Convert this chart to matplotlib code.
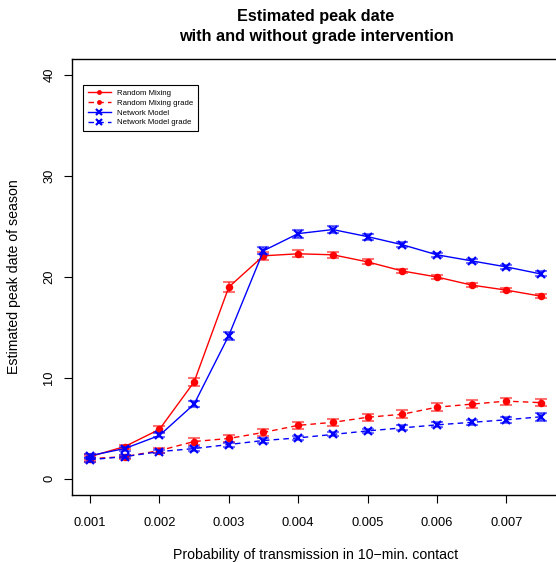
import numpy as np
import matplotlib
matplotlib.use("Agg")
import matplotlib.pyplot as plt

plt.rcParams['font.family'] = ['Liberation Sans', 'DejaVu Sans']

# transmission probabilities
prob = [0.001, 0.0015, 0.002, 0.0025, 0.003, 0.0035, 0.004,
        0.0045, 0.005, 0.0055, 0.006, 0.0065, 0.007, 0.0075]

rm = [2.2, 3.2, 4.9, 9.6, 19.0, 22.1, 22.3, 22.2, 21.5, 20.6, 20.0, 19.2, 18.7, 18.1]
rm_err = [0.3, 0.2, 0.3, 0.4, 0.5, 0.4, 0.35, 0.3, 0.25, 0.2, 0.2, 0.2, 0.2, 0.2]

nm = [2.3, 3.0, 4.3, 7.4, 14.2, 22.6, 24.3, 24.7, 24.0, 23.2, 22.2, 21.6, 21.0, 20.3]
nm_err = [0.2, 0.2, 0.2, 0.3, 0.4, 0.35, 0.4, 0.35, 0.3, 0.25, 0.2, 0.2, 0.2, 0.25]

rm_grade = [2.0, 2.2, 2.8, 3.7, 4.0, 4.6, 5.3, 5.6, 6.1, 6.4, 7.1, 7.4, 7.7, 7.55]
rm_grade_err = [0.3, 0.2, 0.25, 0.3, 0.3, 0.35, 0.35, 0.35, 0.35, 0.4, 0.4, 0.4, 0.35, 0.35]

nm_grade = [1.9, 2.2, 2.7, 3.0, 3.4, 3.8, 4.06, 4.4, 4.75, 5.05, 5.35, 5.6, 5.85, 6.15]
nm_grade_err = [0.2, 0.15, 0.15, 0.2, 0.2, 0.2, 0.2, 0.2, 0.2, 0.25, 0.25, 0.25, 0.3, 0.4]

xticks = [0.001, 0.002, 0.003, 0.004, 0.005, 0.006, 0.007]
xticklabels = ['0.001', '0.002', '0.003', '0.004', '0.005', '0.006', '0.007']
yticks = [0, 10, 20, 30, 40]

W, H = 556, 562
fig = plt.figure(figsize=(W / 100, H / 100), dpi=100)
# plot box runs past the right edge of the picture, like the cropped original
ax = fig.add_axes([72 / W, 1 - 495 / H, (559 - 72) / W, (495 - 59) / H])

series = [
    (rm, rm_err, '#ff0000', '-', 'o', 'Random Mixing'),
    (rm_grade, rm_grade_err, '#ff0000', (0, (4, 3)), 'o', 'Random Mixing grade'),
    (nm, nm_err, '#0000ff', '-', 'x', 'Network Model'),
    (nm_grade, nm_grade_err, '#0000ff', (0, (4, 3)), 'x', 'Network Model grade'),
]

handles = []
for vals, err, col, ls, mk, lab in series:
    ax.errorbar(prob, vals, yerr=err, fmt='none', ecolor=col, alpha=0.55,
                elinewidth=1.5, capsize=4, capthick=1.5)
    if mk == 'o':
        h, = ax.plot(prob, vals, color=col, linestyle=ls, lw=1.0, marker='o',
                     ms=5.4, mew=0, label=lab)
    else:
        h, = ax.plot(prob, vals, color=col, linestyle=ls, lw=1.0, marker='x',
                     ms=5.6, mew=1.6, label=lab)
    handles.append(h)

ax.set_xlim(0.00074, 0.00776)
ax.set_ylim(-1.6, 41.6)
ax.set_xticks(xticks)
ax.set_xticklabels(xticklabels)
ax.set_yticks(yticks)
ax.set_yticklabels([str(v) for v in yticks], rotation=90, va='center')
ax.tick_params(axis='both', direction='out', length=6, width=0.8,
               labelsize=9.3, color='black')
ax.tick_params(axis='x', pad=9.5)
ax.tick_params(axis='y', pad=6)
for s in ax.spines.values():
    s.set_linewidth(1.0)

leg = ax.legend(handles=handles, loc='upper left',
                bbox_to_anchor=(83 / W, 1 - 85 / H), bbox_transform=fig.transFigure,
                fontsize=5.6, frameon=True, fancybox=False, edgecolor='black',
                framealpha=1, borderpad=0.6, labelspacing=0.3, handlelength=3.0,
                handletextpad=0.8, borderaxespad=0, markerscale=0.65)
leg.get_frame().set_linewidth(0.8)

fig.text(316 / W, 1 - 16 / H, 'Estimated peak date', ha='center', va='center',
         fontsize=11.7, fontweight='bold')
fig.text(316 / W, 1 - 36 / H, 'with and without grade intervention', ha='center',
         va='center', fontsize=11.7, fontweight='bold')
fig.text(316 / W, 1 - 555 / H, 'Probability of transmission in 10\u2212min. contact',
         ha='center', va='center', fontsize=10.2)
fig.text(14 / W, 1 - 277 / H, 'Estimated peak date of season', ha='center',
         va='center', rotation=90, fontsize=10.2)

fig.savefig('out.png', dpi=100)
